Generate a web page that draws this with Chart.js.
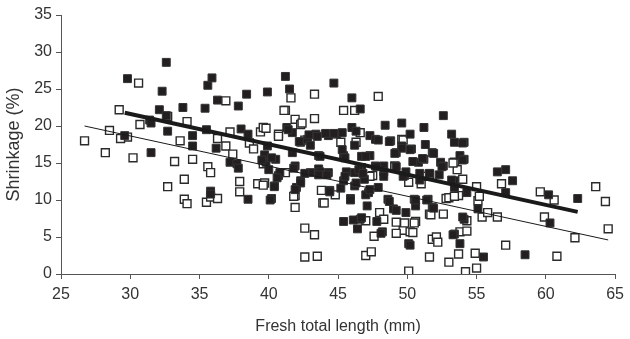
<!DOCTYPE html>
<html>
<head>
<meta charset="utf-8">
<script src="https://cdn.jsdelivr.net/npm/chart.js@4/dist/chart.umd.min.js"></script>
<style>
  html, body { margin: 0; padding: 0; background: #fff; }
  #wrap { width: 630px; height: 339px; }
</style>
</head>
<body>
<div id="wrap"><canvas id="shrinkChart" width="630" height="339"></canvas></div>
<script>
// filled squares
var filled_length = [29.8, 32.6, 32.3, 32.1, 32.6, 31.4, 31.5, 29.6, 31.5, 32.7, 33.8, 34.5, 34.5, 35.4, 35.6, 35.9, 35.5, 36.3, 36.2, 35.8,
  35.8, 37.2, 37.7, 37.8, 37.8, 38.4, 38.0, 38.5, 38.5, 39.9, 39.7, 39.8, 39.9, 40.2, 40.4, 40.5, 40.7, 41.2, 41.5, 41.3,
  41.7, 41.7, 41.9, 42.0, 42.3, 42.8, 43.0, 43.4, 43.6, 43.6, 44.3, 44.3, 44.4, 44.7, 44.9, 45.3, 45.4, 45.4, 45.4, 45.9,
  46.0, 46.0, 46.3, 46.2, 46.2, 46.4, 46.6, 46.6, 46.7, 46.9, 47.1, 47.2, 47.3, 47.3, 47.7, 47.7, 47.9, 47.8, 48.2, 48.3,
  48.4, 48.6, 48.8, 49.0, 49.2, 49.6, 49.6, 49.8, 49.9, 50.1, 50.2, 50.3, 50.5, 50.6, 50.8, 51.2, 51.3, 51.2, 51.5, 51.8,
  51.8, 52.4, 52.6, 52.6, 53.2, 53.4, 53.4, 53.4, 53.4, 53.8, 54.1, 54.1, 54.1, 53.8, 54.3, 55.1, 55.5, 56.5, 57.1, 57.1,
  57.6, 58.5, 60.2, 60.3, 62.3, 40.8, 42.3, 42.9, 41.4, 42.2, 43.0, 43.5, 44.1, 44.7, 46.2, 46.7, 39.5, 40.2, 40.0, 41.8,
  43.7, 42.6, 43.7, 44.2, 45.5, 45.6, 46.5, 47.9, 48.7, 54.0, 49.6, 50.2, 49.1, 51.9, 51.1, 50.4, 52.5, 47.0, 47.8, 49.2,
  54.0, 48.3, 49.9, 50.9, 52.3, 40.6, 40.4, 40.1, 42.3, 41.9, 44.4, 45.2, 45.9, 45.5, 46.3, 47.0, 46.8, 43.6, 46.1, 46.7,
  47.3, 48.7, 49.2, 50.6, 51.4, 51.9, 53.2, 54.0, 48.1, 53.3, 50.2, 48.3, 49.7, 50.9, 51.6, 45.3];
var filled_shrinkage = [26.4, 28.6, 24.7, 22.2, 21.4, 20.8, 20.4, 18.7, 16.4, 19.3, 22.5, 18.7, 17.3, 22.4, 25.5, 26.5, 19.5, 23.5, 17.0, 11.2,
  10.8, 15.1, 14.9, 14.3, 22.7, 24.3, 19.6, 18.9, 10.1, 24.6, 16.1, 15.1, 17.3, 10.2, 11.9, 15.5, 13.3, 26.7, 25.0, 19.8,
  19.1, 16.4, 14.6, 11.7, 17.8, 18.2, 13.7, 18.9, 16.0, 14.2, 13.7, 18.7, 11.3, 25.8, 18.9, 19.1, 16.0, 12.6, 7.1, 10.2,
  23.8, 19.8, 19.3, 11.9, 13.7, 6.1, 7.4, 22.3, 14.4, 12.8, 9.2, 11.0, 16.0, 18.7, 18.2, 14.6, 11.7, 7.1, 5.7, 14.6,
  20.1, 10.1, 18.0, 8.8, 16.4, 20.4, 17.3, 13.3, 8.3, 4.1, 18.9, 16.9, 10.1, 9.2, 15.1, 19.8, 17.5, 15.5, 10.1, 9.0,
  16.4, 15.1, 21.4, 14.6, 18.9, 17.8, 12.6, 11.7, 5.4, 16.0, 17.8, 15.5, 7.4, 4.1, 11.0, 8.8, 2.3, 13.8, 14.1, 11.0,
  12.6, 2.6, 10.7, 6.9, 10.2, 13.7, 12.6, 18.8, 19.5, 17.9, 17.4, 18.6, 19.0, 19.0, 17.4, 15.9, 15.4, 15.7, 14.1, 14.3,
  15.9, 13.6, 13.8, 13.4, 15.7, 13.8, 14.1, 18.1, 17.9, 17.7, 17.0, 16.8, 16.3, 16.3, 15.6, 15.2, 14.5, 15.9, 14.5, 14.5,
  15.4, 13.8, 13.8, 13.6, 13.4, 13.0, 11.8, 10.0, 12.3, 11.4, 11.1, 11.6, 10.0, 13.2, 12.3, 10.7, 13.6, 13.4, 7.3, 7.6,
  11.4, 9.8, 8.6, 10.0, 10.0, 8.9, 12.7, 7.7, 5.5, 5.3, 3.9, 13.2, 13.2, 12.7, 13.6, 16.8];

// open squares
var open_length = [26.7, 28.2, 28.5, 29.2, 29.8, 30.6, 30.7, 30.2, 32.7, 32.7, 33.2, 33.6, 33.9, 33.9, 34.1, 34.1, 34.5, 35.5, 35.6, 35.8,
  35.8, 36.3, 36.3, 36.9, 36.9, 37.2, 37.4, 37.9, 37.9, 38.6, 38.9, 39.2, 39.4, 39.6, 39.7, 39.6, 40.7, 41.2, 41.6, 41.9,
  41.9, 41.9, 41.2, 42.3, 42.6, 42.6, 43.3, 43.3, 43.3, 43.5, 43.8, 43.9, 44.8, 45.4, 45.2, 46.2, 46.3, 46.6, 47.0, 47.4,
  47.6, 47.0, 47.5, 47.9, 48.0, 48.3, 49.2, 49.1, 49.6, 49.7, 50.1, 50.1, 50.2, 50.6, 51.0, 51.6, 51.6, 51.6, 51.8, 52.1,
  52.2, 52.6, 52.8, 53.0, 53.4, 53.6, 53.7, 53.7, 53.8, 54.0, 54.2, 54.3, 54.3, 54.9, 55.0, 55.0, 55.1, 55.2, 55.4, 55.8,
  56.5, 56.8, 57.1, 59.6, 59.9, 60.6, 60.8, 62.1, 63.6, 64.3, 64.5, 41.1, 42.4, 39.8, 42.6, 40.7, 39.6, 41.8, 44.0, 49.7,
  53.3, 49.1, 51.6, 49.8, 50.5, 51.7, 53.0, 53.4, 47.3, 49.2, 50.4, 51.1, 29.3];
var open_shrinkage = [18.0, 16.4, 19.4, 22.2, 18.5, 25.8, 20.2, 15.7, 21.3, 11.8, 15.2, 18.0, 12.8, 10.1, 9.5, 20.6, 15.5, 9.7, 14.5, 13.7,
  10.4, 10.2, 18.3, 23.4, 17.3, 19.2, 16.2, 12.5, 11.1, 17.7, 16.9, 12.2, 19.2, 19.8, 12.3, 14.9, 18.9, 22.1, 23.8, 20.9,
  10.6, 9.0, 13.7, 20.2, 6.2, 2.3, 24.3, 21.0, 5.3, 2.4, 11.3, 9.6, 10.7, 22.1, 17.8, 22.1, 17.8, 19.1, 2.5, 3.0,
  5.1, 7.2, 13.3, 24.0, 8.3, 7.4, 7.0, 14.6, 18.2, 5.9, 12.4, 0.4, 5.7, 7.1, 12.2, 13.5, 2.3, 8.1, 4.7, 5.0,
  4.3, 8.1, 10.2, 1.6, 15.1, 14.1, 10.6, 2.7, 5.7, 12.8, 0.3, 7.2, 5.8, 2.8, 0.8, 11.8, 9.9, 10.5, 7.7, 8.3,
  7.7, 12.2, 3.9, 11.1, 7.7, 10.0, 2.4, 4.9, 11.8, 9.8, 6.1, 22.1, 20.4, 19.7, 18.1, 18.6, 12.0, 10.5, 9.6, 18.1,
  15.0, 14.5, 13.4, 6.9, 6.9, 8.0, 10.3, 10.5, 13.2, 5.5, 5.6, 13.2, 18.3];

// fitted lines, end points
var filled_fit_length = [29.6, 62.3];
var filled_fit_shrinkage = [21.8, 8.4];
var open_fit_length = [26.7, 64.5];
var open_fit_shrinkage = [20.0, 4.6];

var x_ticks = [25, 30, 35, 40, 45, 50, 55, 60, 65];
var y_ticks = [0, 5, 10, 15, 20, 25, 30, 35];

function to_points(xs, ys) {
  var pts = [];
  for (let i = 0; i < xs.length; i++) {
    pts.push({x: xs[i], y: ys[i]});
  }
  return pts;
}

function create_chart() {
  var axis_color = '#555';
  var text_color = '#333';
  var family = "'Liberation Sans', Arial, sans-serif";
  var tick_font = {family: family, size: 16};
  var x_title_font = {family: family, size: 16};
  var y_title_font = {family: family, size: 18};

  const data = {
    datasets: [
      {
        label: 'fit filled',
        data: to_points(filled_fit_length, filled_fit_shrinkage),
        showLine: true,
        borderColor: '#1a1a1a',
        borderWidth: 4,
        pointRadius: 0
      },
      {
        label: 'fit open',
        data: to_points(open_fit_length, open_fit_shrinkage),
        showLine: true,
        borderColor: '#1a1a1a',
        borderWidth: 1,
        pointRadius: 0
      },
      {
        label: 'filled',
        data: to_points(filled_length, filled_shrinkage),
        pointStyle: 'rect',
        pointRadius: 5.6,
        backgroundColor: '#231f20',
        borderColor: '#333',
        borderWidth: 1
      },
      {
        label: 'open',
        data: to_points(open_length, open_shrinkage),
        pointStyle: 'rect',
        pointRadius: 5.6,
        backgroundColor: '#ffffff',
        borderColor: '#2a2a2a',
        borderWidth: 1.4
      }
    ]
  };

  const config = {
    type: 'scatter',
    data: data,
    options: {
      responsive: false,
      animation: false,
      devicePixelRatio: 1,
      layout: {padding: {top: 15, right: 7, left: 0, bottom: 0}},
      plugins: {legend: {display: false}, tooltip: {enabled: false}},
      scales: {
        x: {
          type: 'linear',
          min: 25,
          max: 65,
          afterBuildTicks: function(scale) {
            scale.ticks = x_ticks.map(function(v) { return {value: v}; });
          },
          afterFit: function(scale) { scale.height = 65; },
          grid: {display: true, drawOnChartArea: false, drawTicks: true, tickLength: 5, color: axis_color},
          border: {display: true, color: axis_color, width: 1},
          ticks: {color: text_color, font: tick_font, padding: 6, maxRotation: 0},
          title: {display: true, text: 'Fresh total length (mm)', color: text_color, font: x_title_font, padding: {top: 4, bottom: 3}}
        },
        y: {
          type: 'linear',
          min: 0,
          max: 35,
          afterBuildTicks: function(scale) {
            scale.ticks = y_ticks.map(function(v) { return {value: v}; });
          },
          afterFit: function(scale) { scale.width = 61; },
          grid: {display: true, drawOnChartArea: false, drawTicks: true, tickLength: 5, color: axis_color},
          border: {display: true, color: axis_color, width: 1},
          ticks: {color: text_color, font: tick_font, padding: 4},
          title: {display: true, text: 'Shrinkage (%)', color: text_color, font: y_title_font, padding: {top: 3, bottom: 0}}
        }
      }
    }
  };

  const shrink_chart = new Chart(document.getElementById('shrinkChart'), config);
  return shrink_chart;
}

create_chart();
</script>
</body>
</html>
